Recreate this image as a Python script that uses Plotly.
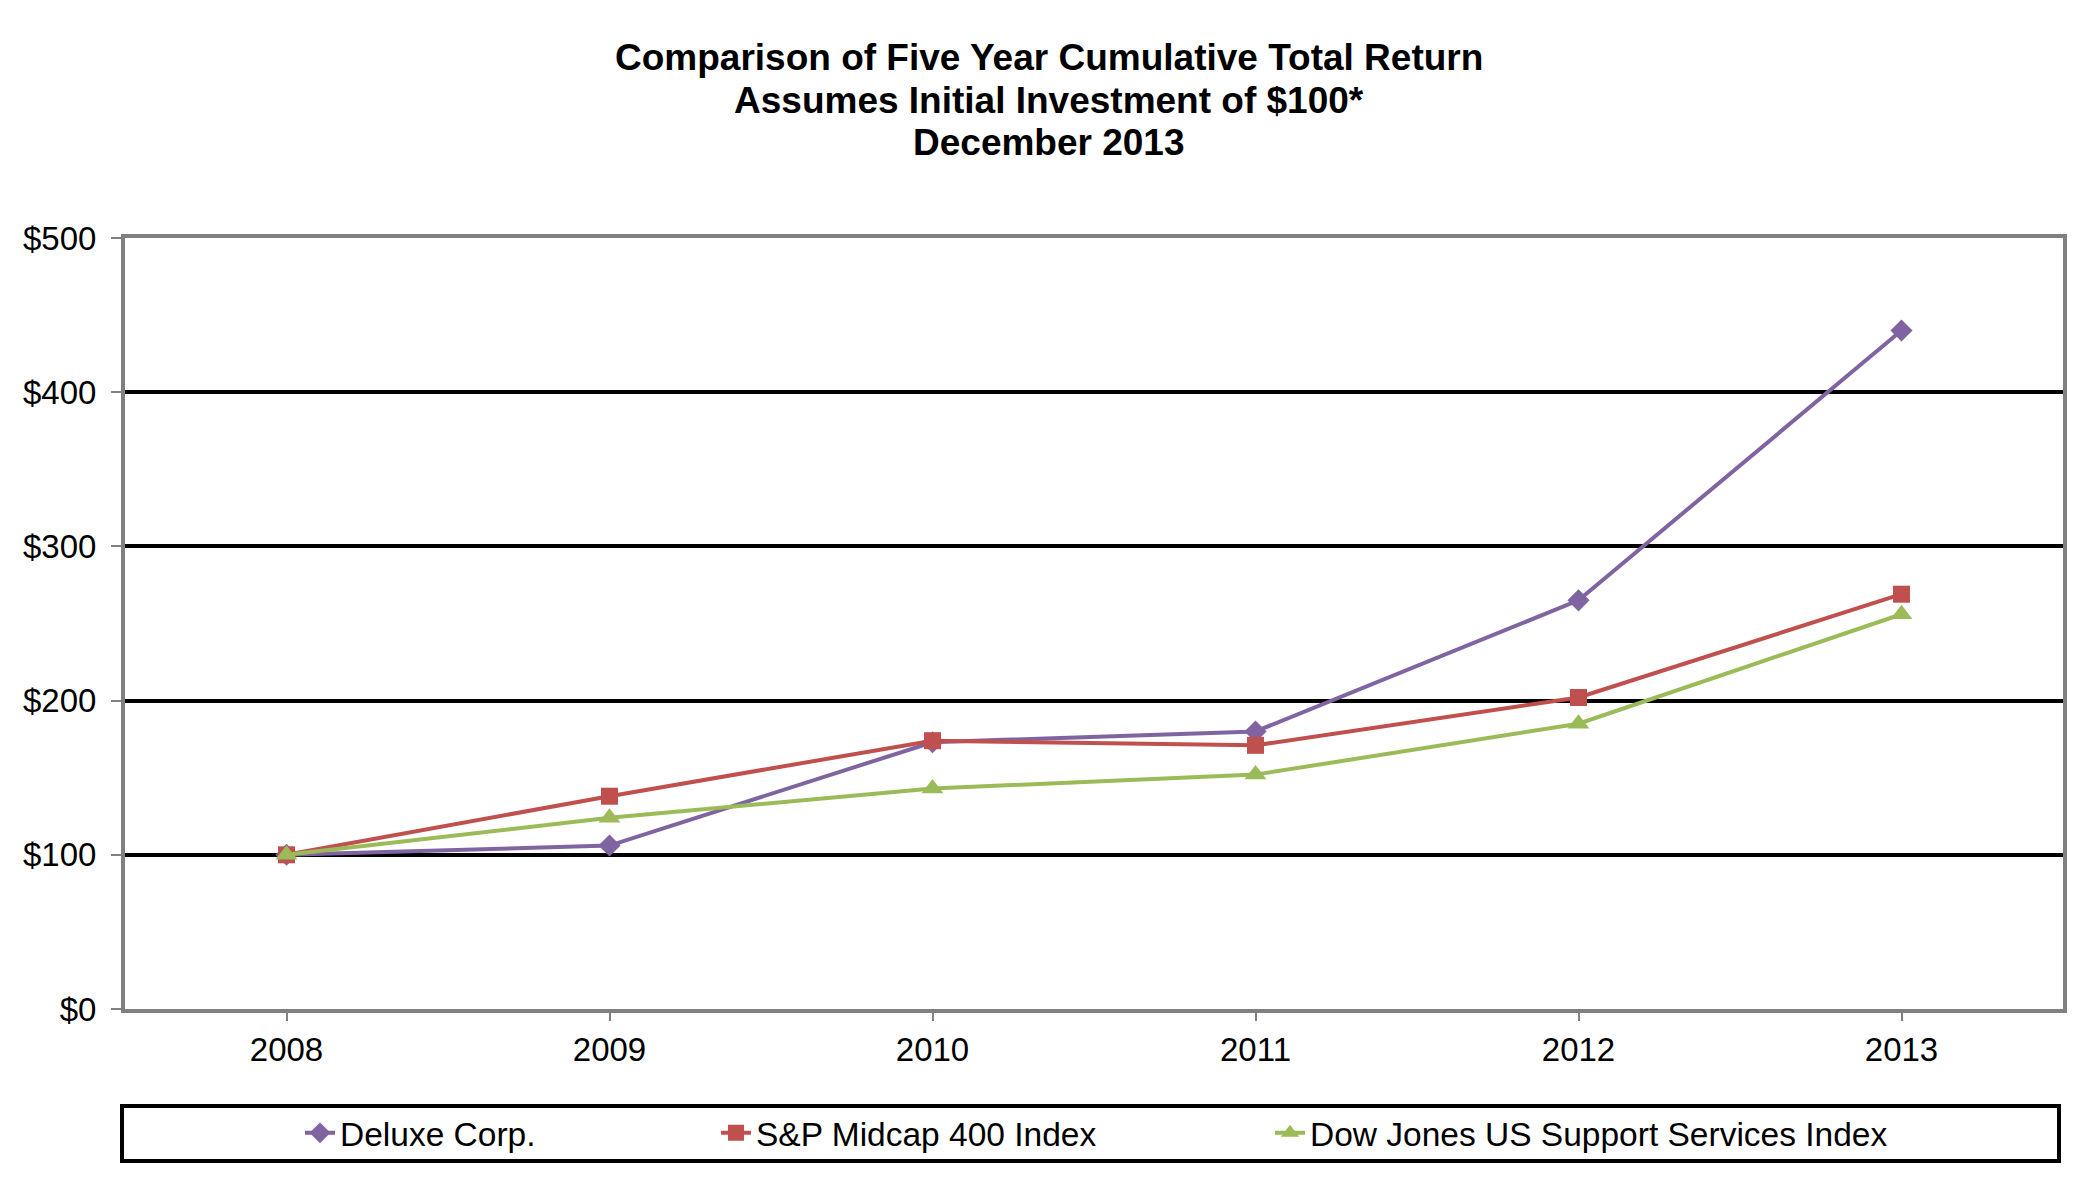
import plotly.graph_objects as go

years = ["2008", "2009", "2010", "2011", "2012", "2013"]
deluxe = [100, 106, 173, 180, 265, 440]
sp_midcap = [100, 138, 174, 171, 202, 269]
dj_support = [100, 124, 143, 152, 185, 256]

series_names = ["Deluxe Corp.", "S&P Midcap 400 Index", "Dow Jones US Support Services Index"]
series_values = [deluxe, sp_midcap, dj_support]
series_colors = ["#8064A2", "#C0504D", "#9BBB59"]
series_symbols = ["diamond", "square", "triangle-up"]
series_sizes = [17, 17, 19]

title_lines = [
    "Comparison of Five Year Cumulative Total Return",
    "Assumes Initial Investment of $100*",
    "December 2013",
]

y_ticks = [0, 100, 200, 300, 400, 500]
y_tick_labels = ["$0", "$100", "$200", "$300", "$400", "$500"]

FONT = "Liberation Sans, Arial, sans-serif"

fig = go.Figure()
legend_ids = ["legend", "legend2", "legend3"]
for name, vals, col, sym, sz, lg in zip(series_names, series_values, series_colors,
                                         series_symbols, series_sizes, legend_ids):
    fig.add_trace(go.Scatter(
        x=years, y=vals, name=name, mode="lines+markers",
        line=dict(color=col, width=4),
        marker=dict(symbol=sym, size=sz, color=col),
        legend=lg,
    ))

# page has an 8px body margin; compensate so the chart lands where the reference has it
OFF = 8
W, H = 2100 - OFF, 1183 - OFF
L, R, T, B = 125 - OFF, 37, 238 - OFF, 174
pw = W - L - R
ph = H - T - B

def px_to_paper_x(px):
    return (px - OFF - L) / pw

def px_to_paper_y(py):
    return (H - B - (py - OFF)) / ph

legend_common = dict(orientation="h", xanchor="left", yanchor="middle",
                     bgcolor="rgba(0,0,0,0)", borderwidth=0,
                     font=dict(family=FONT, size=33.5, color="black"))
leg_x_px = [300, 716, 1270]
leg_y = px_to_paper_y(1133)

annotations = []
title_y_px = [57.7, 100.6, 142]
for txt, ty in zip(title_lines, title_y_px):
    annotations.append(dict(
        text="<b>" + txt + "</b>", x=px_to_paper_x(1049), y=px_to_paper_y(ty),
        xref="paper", yref="paper", xanchor="center", yanchor="middle",
        showarrow=False, font=dict(family=FONT, size=37, color="black"),
    ))

fig.update_layout(
    width=W, height=H,
    margin=dict(l=L, r=R, t=T, b=B),
    paper_bgcolor="white", plot_bgcolor="white",
    font=dict(family=FONT, size=33, color="black"),
    showlegend=True,
    legend=dict(x=px_to_paper_x(leg_x_px[0]), y=leg_y, **legend_common),
    legend2=dict(x=px_to_paper_x(leg_x_px[1]), y=leg_y, **legend_common),
    legend3=dict(x=px_to_paper_x(leg_x_px[2]), y=leg_y, **legend_common),
    annotations=annotations,
    shapes=[dict(type="rect", xref="paper", yref="paper",
                 x0=px_to_paper_x(122), x1=px_to_paper_x(2059),
                 y0=px_to_paper_y(1106), y1=px_to_paper_y(1161),
                 line=dict(color="black", width=4), fillcolor="rgba(0,0,0,0)")],
)

fig.update_xaxes(
    type="category", range=[-0.5, 5.5],
    showgrid=False, zeroline=False,
    showline=True, linecolor="#808080", linewidth=4, mirror=True,
    ticks="outside", ticklen=8, tickwidth=1.5, tickcolor="#808080",
    tickfont=dict(family=FONT, size=33, color="black"),
)
fig.update_yaxes(
    range=[0, 500], tickmode="array", tickvals=y_ticks, ticktext=y_tick_labels,
    showgrid=True, gridcolor="black", gridwidth=4, zeroline=False,
    showline=True, linecolor="#808080", linewidth=4, mirror=True,
    ticks="outside", ticklen=10, tickwidth=1.5, tickcolor="#808080",
    ticklabelstandoff=8,
    tickfont=dict(family=FONT, size=33, color="black"),
)

fig.write_html("out.html")
